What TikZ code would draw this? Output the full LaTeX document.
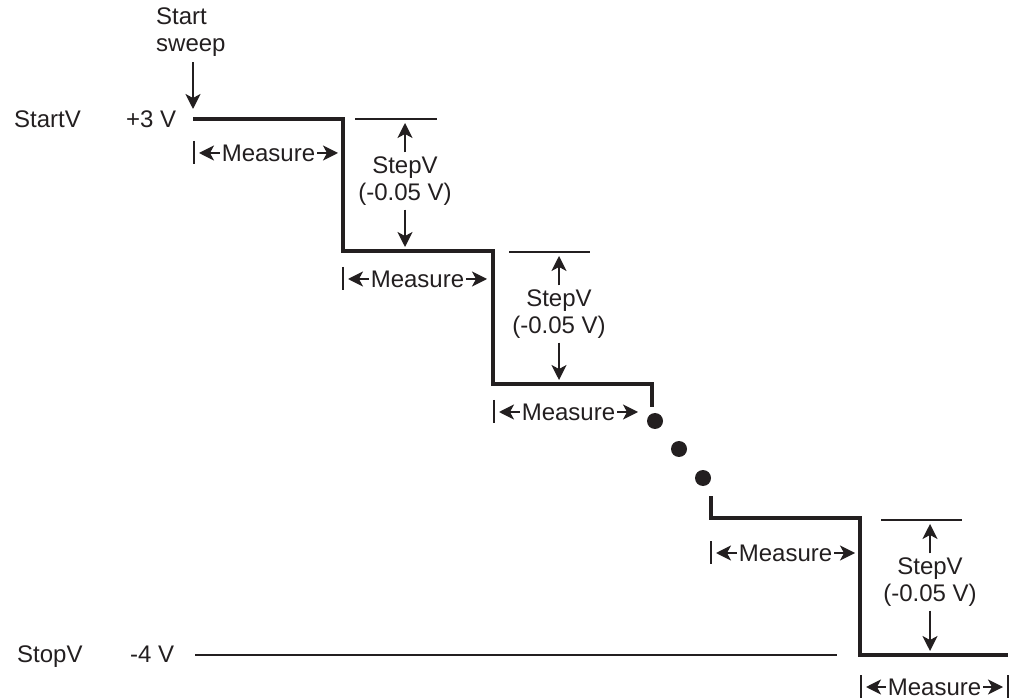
\documentclass[tikz,border=0pt]{standalone}
\usepackage{fontspec}
\setmainfont{Liberation Sans}
\usetikzlibrary{arrows.meta}
\definecolor{ink}{HTML}{231F20}
\tikzset{
  wave/.style={ink, line width=3.8pt, line join=miter},
  guide/.style={ink, line width=1.5pt},
  dim/.style={ink, line width=1.6pt, -{Stealth[length=15pt,width=15pt,inset=4pt]}},
  lbl/.style={ink, font=\fontsize{24}{27}\selectfont, inner sep=2pt},
}
\begin{document}
\begin{tikzpicture}[x=1pt,y=-1pt]
            \useasboundingbox (0,0) rectangle (1015,700);

            % corners of the staircase
            \coordinate (s0) at (193,119);
            \coordinate (s1) at (343,119);
            \coordinate (s2) at (343,251);
            \coordinate (s3) at (493,251);
            \coordinate (s4) at (493,384);
            \coordinate (s5) at (652,384);
            \coordinate (s6) at (652,407);
            \coordinate (t0) at (711,496);
            \coordinate (t1) at (711,518);
            \coordinate (t2) at (860,518);
            \coordinate (t3) at (860,655);
            \coordinate (t4) at (1008,655);

            % Draw the sweep
            \draw[wave] (s0) -- (s1) -- (s2) -- (s3) -- (s4) -- (s5) -- (s6);
            \draw[wave] (t0) -- (t1) -- (t2) -- (t3) -- (t4);
            \foreach \dx/\dy in {655/421, 679/449, 703/478} {
              \fill[ink] (\dx,\dy) circle (8);
            }

            % Levels on the left
            \node[lbl,anchor=base west,inner sep=0pt] (startv) at (14,128) {StartV};
            \node[lbl,anchor=base west,inner sep=0pt] (plus3) at (126,128) {+3 V};
            \node[lbl,anchor=base west,inner sep=0pt] (stopv) at (17,662) {StopV};
            \node[lbl,anchor=base west,inner sep=0pt] (minus4) at (130,662) {-4 V};
            \coordinate (stopl) at (195,655);
            \coordinate (stopr) at (837,655);
            \draw[guide] (stopl) -- (stopr);

            % Start sweep
            \node[lbl,anchor=north west,align=left,inner sep=0pt] (sweep) at (156,8) {Start\\sweep};
            \draw[dim,shorten <=5pt] (sweep.south -| s0) -- ([yshift=10pt]s0);

            % Measure intervals
            \foreach \bx/\rx/\my [count=\i] in {194/343/153, 343/492/279, 494/643/412, 711/860/553, 861/1008/687} {
              \coordinate (ml\i) at (\bx,\my);
              \coordinate (mr\i) at (\rx,\my);
              \node[lbl] (meas\i) at ({(\bx+\rx)/2},\my) {Measure};
              \draw[guide] (ml\i) ++(0,-12) -- ++(0,23);
              \draw[dim,shorten >=5pt] (meas\i.west) -- (ml\i);
              \draw[dim,shorten >=5pt] (meas\i.east) -- (mr\i);
            }
            \draw[guide] (mr5) ++(0,-12) -- ++(0,23);

            % StepV labels
            \foreach \ax/\lx/\rx/\ty/\by [count=\i] in {405/355/437/119/251, 559/509/590/252/384, 930/881/962/520/655} {
              \coordinate (rl\i) at (\lx,\ty);
              \coordinate (rr\i) at (\rx,\ty);
              \coordinate (bot\i) at (\ax,\by);
              \draw[guide] (rl\i) -- (rr\i);
              \node[lbl,align=center,inner sep=4pt] (stepv\i) at (\ax,\ty+62) {StepV\\(-0.05 V)};
              \draw[dim,shorten >=4pt] (stepv\i.north) -- (stepv\i.north |- rl\i);
              \draw[dim,shorten >=4pt] (stepv\i.south) -- (bot\i);
            }
        \end{tikzpicture}
\end{document}
